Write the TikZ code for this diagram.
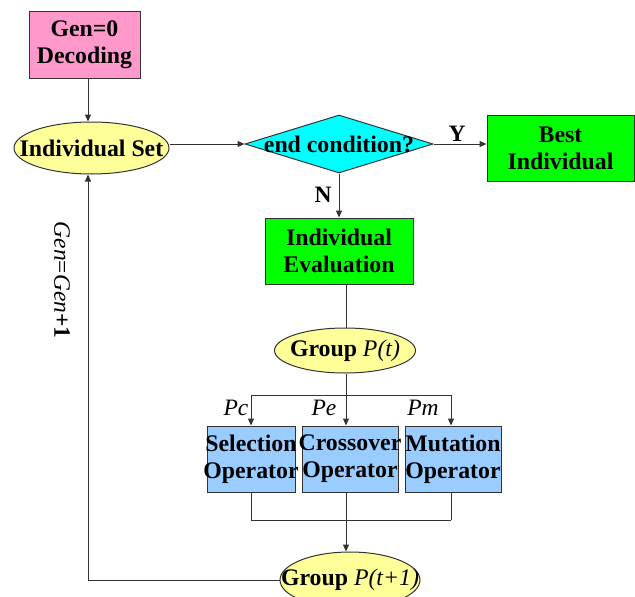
\documentclass[tikz,border=0pt]{standalone}
\usepackage{fontspec}
\setmainfont{Liberation Serif}
\usetikzlibrary{shapes.geometric,arrows.meta}
\definecolor{cpink}{HTML}{FF99CC}
\definecolor{cyell}{HTML}{FFFF99}
\definecolor{ccyan}{HTML}{00FFFF}
\definecolor{cgreen}{HTML}{00FF00}
\definecolor{cblue}{HTML}{99CCFF}
\definecolor{cline}{HTML}{333333}
\tikzset{
  base/.style={draw=cline, line width=1pt, inner sep=0pt, align=center,
    font=\fontsize{23.8}{27}\selectfont\bfseries},
  boxnode/.style={base, rectangle},
  ellnode/.style={base, ellipse},
  dianode/.style={base, diamond},
  lbl/.style={inner sep=0pt, font=\fontsize{23.5}{26}\selectfont},
  conn/.style={draw=cline, line width=1pt},
  arr/.style={conn, -{Triangle[length=7pt,width=6pt]}}
}
\newcommand{\zb}[1]{\makebox[0pt]{#1}}
\begin{document}
\begin{tikzpicture}[x=1pt,y=-1pt]
\useasboundingbox (0,0) rectangle (635,597);
% nodes
\node[boxnode, fill=cpink, minimum width=111pt, minimum height=67pt] (gen0) at (84.5,44.5) {\zb{Gen=0}\\\zb{Decoding}};
\node[ellnode, fill=cyell, minimum width=155pt, minimum height=52pt] (indset) at (91.5,148) {\zb{Individual Set}};
\node[dianode, fill=ccyan, minimum width=188pt, minimum height=58pt] (cond) at (339,144) {\zb{end condition?}};
\node[boxnode, fill=cgreen, minimum width=147pt, minimum height=66pt] (best) at (560.5,148) {\zb{Best}\\\zb{Individual}};
\node[boxnode, fill=cgreen, minimum width=148pt, minimum height=66pt] (eval) at (339,251) {\zb{Individual}\\\zb{Evaluation}};
\node[ellnode, fill=cyell, minimum width=141pt, minimum height=45pt] (gpt) at (345,350.5) {\zb{Group \mdseries\itshape P(t)}};
\node[boxnode, fill=cblue, minimum width=88pt, minimum height=66pt] (sel) at (251,459) {\zb{Selection}\\\zb{Operator}};
\node[boxnode, fill=cblue, minimum width=96pt, minimum height=66pt] (cro) at (350,459) {\zb{Crossover}\\\zb{Operator}};
\node[boxnode, fill=cblue, minimum width=96pt, minimum height=66pt] (mut) at (453,459) {\zb{Mutation}\\\zb{Operator}};
\node[ellnode, fill=cyell, minimum width=140pt, minimum height=56pt] (gpt1) at (350,580) {\zb{Group \mdseries\itshape P(t+1)}};
% labels
\node[lbl, font=\fontsize{23.5}{26}\selectfont\bfseries] (ylbl) at (457,134) {Y};
\node[lbl, font=\fontsize{23.5}{26}\selectfont\bfseries] (nlbl) at (323,195) {N};
\node[lbl, font=\fontsize{23.5}{26}\selectfont\itshape] (pc) at (236,408) {Pc};
\node[lbl, font=\fontsize{23.5}{26}\selectfont\itshape] (pe) at (324,408) {Pe};
\node[lbl, font=\fontsize{23.5}{26}\selectfont\itshape] (pm) at (423,408) {Pm};
\node[lbl, rotate=-90] (genlbl) at (62,280) {\textit{Gen}=\textit{Gen}\textbf{+1}};
% coordinates
\coordinate (colA) at (88,0);
\coordinate (colB) at (346,0);
\coordinate (split) at (346,395);
\coordinate (merge) at (346,520);
% connectors
\draw[arr] (gen0.south -| colA) -- (indset.north -| colA);
\draw[arr] (indset.east |- cond) -- (cond.west);
\draw[arr] (cond.east) -- (cond.east -| best.west);
\draw[arr] (cond.south) -- (eval.north);
\draw[conn] (eval.south -| colB) -- (gpt.north -| colB);
\draw[conn] (gpt.south -| colB) -- (split);
\draw[conn] (split -| sel) -- (split -| 451,0);
\draw[arr] (split -| sel) -- (sel.north);
\draw[arr] (split) -- (cro.north -| split);
\draw[arr] (split -| 451,0) -- (mut.north -| 451,0);
\draw[conn] (sel.south) -- (merge -| sel);
\draw[conn] (cro.south -| merge) -- (merge);
\draw[conn] (mut.south -| 451,0) -- (merge -| 451,0);
\draw[conn] (merge -| sel) -- (merge -| 451,0);
\draw[arr] (merge) -- (gpt1.north -| merge);
\draw[arr] (gpt1.west) -| (indset.south -| colA);
\end{tikzpicture}
\end{document}
